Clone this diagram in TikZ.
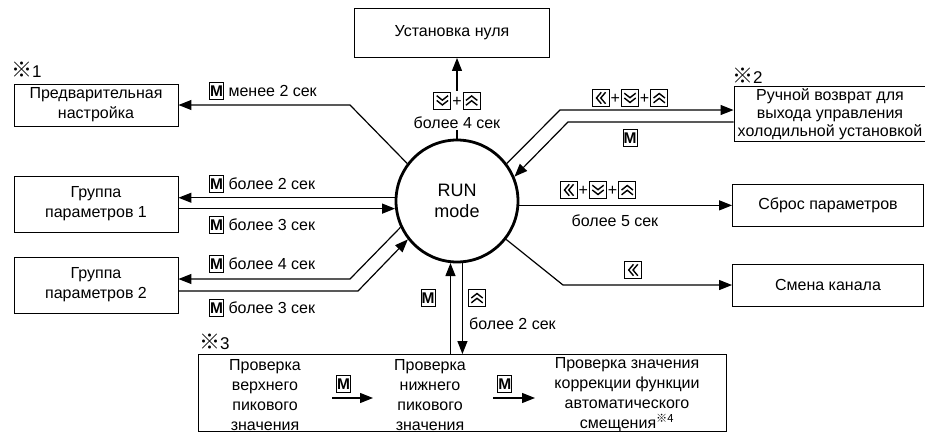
\documentclass[tikz,border=0pt]{standalone}
\usepackage{fontspec}
\setmainfont{Liberation Sans}
\newfontfamily\cjk{Noto Sans CJK JP}
\usetikzlibrary{arrows.meta,calc,positioning}
\pgfdeclarelayer{background1}
\pgfsetlayers{background1,main}

% panel keys
\newcommand{\keyM}{\tikz[baseline=2.6pt,x=1pt,y=1pt]{\draw[line width=0.9pt] (0,0) rectangle (14,16.5); \node[anchor=center,inner sep=0pt,font=\bfseries\fontsize{15.5}{16}\selectfont] at (7,8.25) {M};}}
\newcommand{\keyL}{\tikz[baseline=2.6pt,x=1pt,y=1pt]{\draw[line width=0.9pt] (0,0) rectangle (17,17); \draw[line width=1.4pt] (9,2.8) -- (4.2,8.5) -- (9,14.2) (13.3,2.8) -- (8.5,8.5) -- (13.3,14.2);}}
\newcommand{\keyD}{\tikz[baseline=2.6pt,x=1pt,y=1pt]{\draw[line width=0.9pt] (0,0) rectangle (17,17); \draw[line width=1.4pt] (2.8,13.3) -- (8.5,8.8) -- (14.2,13.3) (2.8,8.5) -- (8.5,4) -- (14.2,8.5);}}
\newcommand{\keyU}{\tikz[baseline=2.6pt,x=1pt,y=1pt]{\draw[line width=0.9pt] (0,0) rectangle (17,17); \draw[line width=1.4pt] (2.8,3.7) -- (8.5,8.2) -- (14.2,3.7) (2.8,8.5) -- (8.5,13) -- (14.2,8.5);}}
\newcommand{\keyplus}{\kern1pt+\kern1pt}

\begin{document}
\begin{tikzpicture}[x=1pt,y=-1pt,font=\fontsize{16}{20}\selectfont,
	box/.style={draw,line width=0.9pt,align=center,inner sep=0pt},
	link/.style={line width=1.2pt},
	arr/.style={link,-{Triangle[length=13pt,width=10pt]}},
	lbl/.style={inner sep=1pt,align=center},
	notemark/.style={anchor=west,inner sep=0pt,font=\fontsize{17}{20}\selectfont}]
	\useasboundingbox (0,0) rectangle (925,437);

	\node(run) [circle,draw,line width=2.8pt,minimum size=122pt,align=center,font=\fontsize{18}{21}\selectfont] at (457,201) {RUN\\mode};

	\node(zero) [box,minimum width=195pt,minimum height=49pt] at (452,33) {Установка нуля};
	\node(pre) [box,minimum width=164pt,minimum height=42pt] at (96,105) {Предварительная\\настройка};
	\node(grp1) [box,minimum width=164pt,minimum height=56pt] at (96,204) {Группа\\параметров 1};
	\node(grp2) [box,minimum width=164pt,minimum height=56pt] at (96,285) {Группа\\параметров 2};
	\node(man) [box,minimum width=192pt,minimum height=55pt,font=\fontsize{16}{18}\selectfont] at (830,114) {Ручной возврат для\\выхода управления\\холодильной установкой};
	\node(rst) [box,minimum width=191pt,minimum height=42pt] at (828,205) {Сброс параметров};
	\node(chk) [box,minimum width=528pt,minimum height=77pt] at (462,393) {};
	\node(chn) [box,minimum width=191pt,minimum height=42pt] at (828,285) {Смена канала};

	\node(chk1) [lbl] at (265,395) {Проверка\\верхнего\\пикового\\значения};
	\node(chk2) [lbl] at (430,395) {Проверка\\нижнего\\пикового\\значения};
	\node(chk3) [lbl] at (627,395) {Проверка значения\\коррекции функции\\автоматического\\смещения\textsuperscript{\cjk ※4}};

	\node(n1) [notemark] at (11,70) {{\cjk\fontsize{21}{21}\selectfont ※}1};
	\node(n2) [notemark] at (732,76) {{\cjk\fontsize{21}{21}\selectfont ※}2};
	\node(n3) [notemark] at (199,342) {{\cjk\fontsize{21}{21}\selectfont ※}3};

	% key labels
	\node(lpre) [lbl,anchor=west] at (208,91) {\keyM\ менее 2 сек};
	\node(lg1a) [lbl,anchor=west] at (208,184) {\keyM\ более 2 сек};
	\node(lg1b) [lbl,anchor=west] at (208,225) {\keyM\ более 3 сек};
	\node(lg2a) [lbl,anchor=west] at (208,264) {\keyM\ более 4 сек};
	\node(lg2b) [lbl,anchor=west] at (208,308) {\keyM\ более 3 сек};
	\node(lzero) [lbl,fill=white] at (457,110) {\keyD\keyplus\keyU\\[2pt]более 4 сек};
	\node(lman1) [lbl] at (630,98) {\keyL\keyplus\keyD\keyplus\keyU};
	\node(lman2) [lbl] at (630,138) {\keyM};
	\node(lrst1) [lbl] at (598,190) {\keyL\keyplus\keyD\keyplus\keyU};
	\node(lrst2) [lbl] at (615,221) {более 5 сек};
	\node(lchn) [lbl] at (633,270) {\keyL};
	\node(lchkM) [lbl] at (428,298) {\keyM};
	\node(lchkU) [lbl] at (477,298) {\keyU};
	\node(lchk2) [lbl,anchor=west] at (468,324) {более 2 сек};

	\coordinate (bpre) at (350,105);
	\coordinate (bg2a) at (350,279);
	\coordinate (bg2b) at (358,291);
	\coordinate (bmana) at (560,110);
	\coordinate (bmanb) at (568,122);
	\coordinate (bchn) at (563,285);
	\coordinate (m1) at (332,398);
	\coordinate (m2) at (493,398);

	\draw[arr] (m1) -- node[lbl,above=4pt,pos=0.28] {\keyM} ++(41,0);
	\draw[arr] (m2) -- node[lbl,above=4pt,pos=0.28] {\keyM} ++(42,0);

	\begin{pgfonlayer}{background1}
		\draw[arr] (run.north) -- (run.north |- zero.south);
		\draw[arr] (run.143) -- (bpre) -- (pre.east);
		\draw[arr] (run.177) -- (run.177 -| grp1.east);
		\draw[arr] (run.187 -| grp1.east) -- (run.187);
		\draw[arr] (run.205) -- (bg2a) -- (bg2a -| grp2.east);
		\draw[arr] (bg2b -| grp2.east) -- (bg2b) -- (run.218);
		\draw[arr] (run.37) -- (bmana) -- (bmana -| man.west);
		\draw[arr] (bmanb -| man.west) -- (bmanb) -- (run.23);
		\draw[arr] (run.-4) -- (run.-4 -| rst.west);
		\draw[arr] (run.-38) -- (bchn) -- (chn.west);
		\draw[arr] (run.264 |- chk.north) -- (run.264);
		\draw[arr] (run.275) -- (run.275 |- chk.north);
	\end{pgfonlayer}

\end{tikzpicture}
\end{document}
